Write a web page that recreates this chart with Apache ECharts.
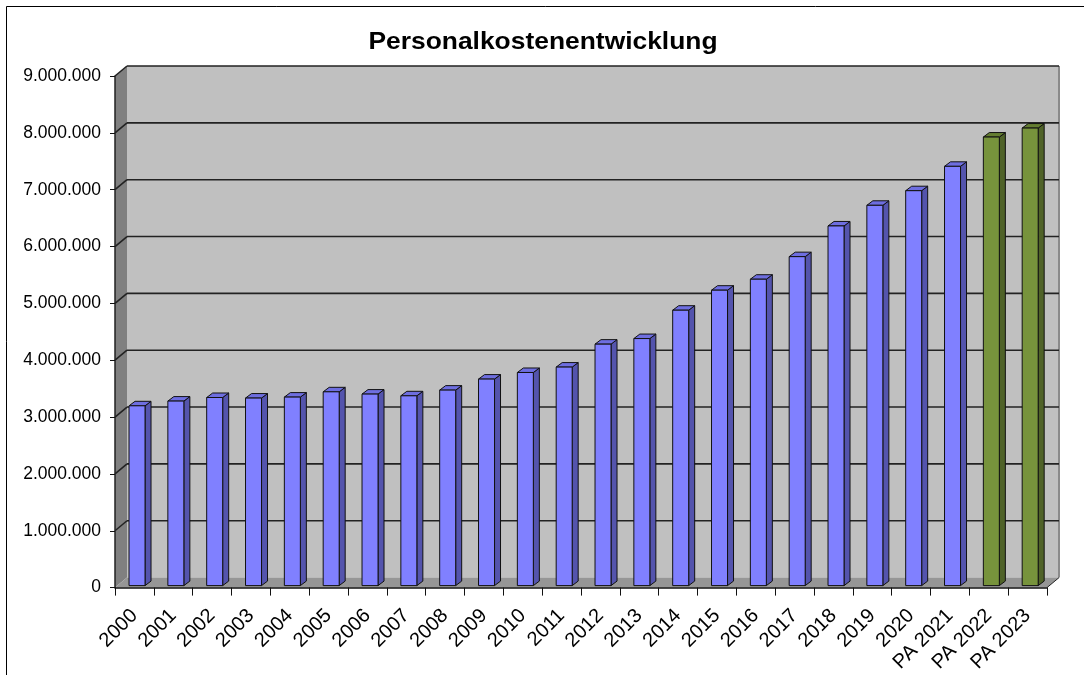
<!DOCTYPE html>
<html><head><meta charset="utf-8">
<script src="https://cdn.jsdelivr.net/npm/echarts@6/dist/echarts.min.js"></script>
<style>html,body{margin:0;padding:0;background:#fff}#c{width:1084px;height:675px}</style>
</head><body><div id="c"></div>
<script>
const chartTitle = 'Personalkostenentwicklung';
const categories = ['2000','2001','2002','2003','2004','2005','2006','2007','2008','2009','2010',
  '2011','2012','2013','2014','2015','2016','2017','2018','2019','2020','PA 2021','PA 2022','PA 2023'];
const actualValues = [3163000, 3246000, 3309000, 3299000, 3316000, 3409000, 3369000, 3339000, 3439000,
  3633000, 3749000, 3844000, 4248000, 4346000, 4845000, 5197000, 5390000, 5787000, 6327000, 6690000,
  6947000, 7376000, null, null];
const plannedValues = [null, null, null, null, null, null, null, null, null, null, null, null, null, null,
  null, null, null, null, null, null, null, null, 7891000, 8049000];
const yTickValues = [0, 1000000, 2000000, 3000000, 4000000, 5000000, 6000000, 7000000, 8000000, 9000000];

const FONT = '"Liberation Sans", Arial, sans-serif';
function fmt(v){ return String(v).replace(/\B(?=(\d{3})+(?!\d))/g, '.'); }

function toData(arr){ const out=[]; arr.forEach((v,i)=>{ if(v!=null) out.push([i,v]); }); return out; }

function barRenderer(front, side, top){
  return function(params, api){
    const i = api.value(0), v = api.value(1);
    const p = api.coord([i, v]);
    const b = api.coord([i, 0]);
    const w = 16, dx = 6, dy = -4.5;
    const x0 = p[0] - 5.4, x1 = x0 + w, yt = p[1] - 2, yb = b[1] - 2;
    const st = {stroke:'#111', lineWidth:1};
    return {type:'group', children:[
      {type:'polygon', shape:{points:[[x1,yt],[x1+dx,yt+dy],[x1+dx,yb+dy],[x1,yb]]}, style:Object.assign({fill:side}, st)},
      {type:'polygon', shape:{points:[[x0,yt],[x0+dx,yt+dy],[x1+dx,yt+dy],[x1,yt]]}, style:Object.assign({fill:top}, st)},
      {type:'rect', shape:{x:x0, y:yt, width:w, height:yb-yt}, style:Object.assign({fill:front}, st)}
    ]};
  };
}

function wallsRenderer(params, api){
  const cs = params.coordSys;
  const L = cs.x, R = cs.x + cs.width, T = cs.y, B = cs.y + cs.height;
  const dx = 12, dy = -10;
  const ch = [];
  ch.push({type:'polygon', shape:{points:[[L,T],[L+dx,T+dy],[L+dx,B+dy],[L,B]]}, style:{fill:'#808080'}});
  ch.push({type:'rect', shape:{x:L+dx, y:T+dy, width:R-L, height:B-T}, style:{fill:'#c0c0c0'}});
  ch.push({type:'polygon', shape:{points:[[L,B],[R,B],[R+dx,B+dy],[L+dx,B+dy]]}, style:{fill:'#969696'}});
  ch.push({type:'line', shape:{x1:R+dx, y1:T+dy, x2:R+dx, y2:B+dy}, style:{stroke:'#8a8a8a', lineWidth:2}});
  yTickValues.forEach(v => {
    if (v === 0) return;
    const y = api.coord([0, v])[1];
    ch.push({type:'line', shape:{x1:L, y1:y, x2:L+dx, y2:y+dy}, style:{stroke:'#222', lineWidth:1.6}});
    ch.push({type:'line', shape:{x1:L+dx, y1:y+dy, x2:R+dx, y2:y+dy}, style:{stroke:'#222', lineWidth:1.6}});
  });
  ch.push({type:'line', shape:{x1:R, y1:B, x2:R+dx, y2:B+dy}, style:{stroke:'#222', lineWidth:1}});
  return {type:'group', children:ch};
}

const chart = echarts.init(document.getElementById('c'), null, {renderer:'canvas'});
chart.setOption({
  backgroundColor:'#ffffff',
  animation:false,
  graphic:[
    {type:'rect', z:100, shape:{x:6.5, y:6.5, width:1100, height:700}, style:{fill:'none', stroke:'#000', lineWidth:1}},
    {type:'text', z:100, x:543, y:42, scaleX:1.1, style:{text:chartTitle, fontSize:24, fontWeight:'bold', fontFamily:FONT, fill:'#000', align:'center', verticalAlign:'middle'}}
  ],
  grid:{left:115, right:37, top:76, bottom:87, containLabel:false},
  xAxis:{
    type:'category', data:categories, boundaryGap:true, z:5,
    axisLine:{show:true, lineStyle:{color:'#111', width:1.5}},
    axisTick:{show:true, interval:0, length:8, lineStyle:{color:'#111', width:1}},
    axisLabel:{interval:0, rotate:45, fontSize:20, fontFamily:FONT, color:'#000', margin:25},
    splitLine:{show:false}
  },
  yAxis:{
    type:'value', min:0, max:9000000, interval:1000000, z:5,
    axisLine:{show:true, lineStyle:{color:'#222', width:1.5}},
    axisTick:{show:true, length:5, lineStyle:{color:'#111', width:1}},
    axisLabel:{fontSize:17.5, fontFamily:FONT, color:'#000', margin:14, formatter:fmt},
    splitLine:{show:false}
  },
  series:[
    {type:'custom', name:'walls', z:1, silent:true, renderItem:wallsRenderer, data:[[0,0]], encode:{x:0,y:1}},
    {type:'custom', name:'Ist', z:3, renderItem:barRenderer('#8080ff','#5454ad','#6e6ee0'), data:toData(actualValues), encode:{x:0,y:1}},
    {type:'custom', name:'Plan', z:3, renderItem:barRenderer('#77933c','#4f6228','#647d31'), data:toData(plannedValues), encode:{x:0,y:1}}
  ]
});
</script></body></html>
